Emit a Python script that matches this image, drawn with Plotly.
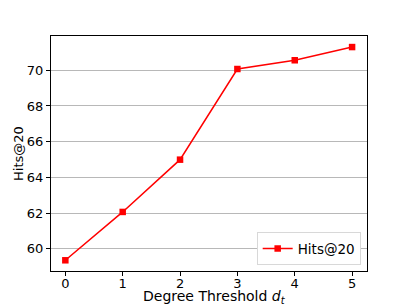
import plotly.graph_objects as go

degree_threshold = [0, 1, 2, 3, 4, 5]
hits_at_20 = [59.35, 62.06, 64.99, 70.07, 70.56, 71.30]
y_ticks = [60, 62, 64, 66, 68, 70]
x_ticks = [0, 1, 2, 3, 4, 5]

fig = go.Figure()
fig.add_trace(go.Scatter(
    x=degree_threshold, y=hits_at_20, mode="lines+markers", name="Hits@20",
    line=dict(color="#ff0000", width=1.5),
    marker=dict(symbol="square", size=6.5, color="#ff0000"),
))

W, H = 407, 305
ML, MR, MT, MB = 51, 40, 36, 34
pw, ph = W - ML - MR, H - MT - MB

fig.update_layout(
    width=W, height=H,
    margin=dict(l=ML, r=MR, t=MT, b=MB, autoexpand=False),
    paper_bgcolor="white", plot_bgcolor="white",
    font=dict(family="DejaVu Sans", size=12.5, color="black"),
    showlegend=True,
    legend=dict(x=0.98, y=0.025, xanchor="right", yanchor="bottom",
                bordercolor="#d8d8d8", borderwidth=1, bgcolor="white",
                font=dict(family="DejaVu Sans", size=13.5)),
    xaxis=dict(range=[-0.25, 5.26], tickvals=x_ticks, showgrid=False,
               showline=True, mirror=True, linecolor="black", linewidth=1,
               ticks="outside", ticklen=4, tickcolor="black", zeroline=False,
               automargin=False, ticklabelstandoff=-4,
               tickfont=dict(family="DejaVu Sans", size=13)),
    yaxis=dict(range=[58.75, 71.92], tickvals=y_ticks, showgrid=True,
               gridcolor="#b8b8b8", gridwidth=1,
               showline=True, mirror=True, linecolor="black", linewidth=1,
               ticks="outside", ticklen=4, tickcolor="black", zeroline=False,
               automargin=False,
               tickfont=dict(family="DejaVu Sans", size=13)),
    annotations=[
        dict(text="Degree Threshold <i>d</i><sub><i>t</i></sub>",
             xref="paper", yref="paper", x=0.5 + (214 - (ML + pw / 2)) / pw,
             y=(MT + ph - 296.5) / ph, xanchor="center", yanchor="middle",
             showarrow=False, font=dict(family="DejaVu Sans", size=14)),
        dict(text="Hits@20", textangle=-90,
             xref="paper", yref="paper", x=(18 - ML) / pw, y=(MT + ph - 154) / ph,
             xanchor="center", yanchor="middle",
             showarrow=False, font=dict(family="DejaVu Sans", size=13)),
    ],
)

fig.write_html("out.html", config={"displayModeBar": False},
               post_script="document.body.style.margin='0';document.body.style.overflow='hidden';")
